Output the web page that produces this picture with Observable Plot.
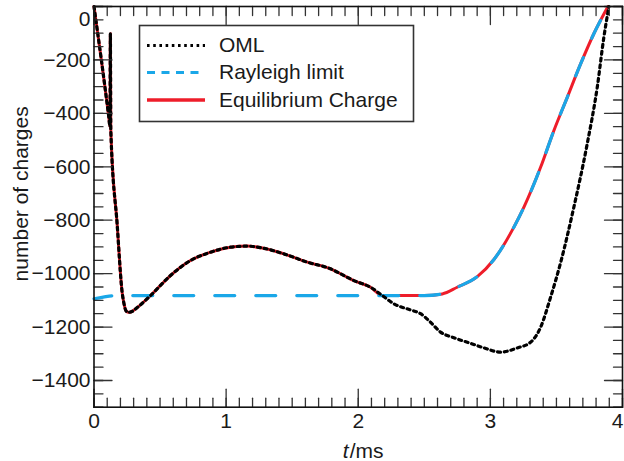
<!DOCTYPE html>
<html>
<head>
<meta charset="utf-8">
<script src="https://cdn.jsdelivr.net/npm/d3@7"></script>
<script src="https://cdn.jsdelivr.net/npm/@observablehq/plot@0.6"></script>
<style>
  html, body { margin: 0; padding: 0; background: white; overflow: hidden; }
  #wrap { position: relative; width: 624px; height: 461px; }
  #legend { position: absolute; left: 0; top: 0; }
</style>
</head>
<body>
<div id="wrap"></div>
<script>
// ---- data ----
const omlT = [0, 0.112, 0.121, 0.124, 0.127, 0.176, 0.213, 0.226, 0.240, 0.257, 0.290, 0.327, 0.428, 0.579, 0.730, 0.881, 1.033, 1.160, 1.285, 1.437, 1.614, 1.790, 1.891, 1.967, 2.093, 2.182, 2.270, 2.396, 2.472, 2.547, 2.623, 2.724, 2.850, 2.951, 3.077, 3.204, 3.304, 3.380, 3.456, 3.532, 3.632, 3.733, 3.809, 3.859, 3.897];
const omlV = [0, -414, -450, -102, -460, -820, -1070, -1110, -1137, -1145, -1141, -1127, -1082, -1007, -951, -920, -901, -897, -905, -926, -957, -982, -1007, -1026, -1051, -1082, -1113, -1136, -1150, -1182, -1219, -1240, -1261, -1278, -1294, -1278, -1257, -1201, -1088, -958, -751, -514, -302, -115, 0];

const rayT = [0, 0.07, 0.14, 0.30, 2.50, 2.636, 2.749, 2.901, 3.027, 3.178, 3.254, 3.380, 3.481, 3.582, 3.683, 3.783, 3.890];
const rayV = [-1094, -1088, -1083, -1082, -1082, -1076, -1051, -1011, -947, -826, -751, -602, -464, -340, -215, -102, 0];

const eqT = [0, 0.112, 0.121, 0.124, 0.127, 0.176, 0.213, 0.226, 0.240, 0.257, 0.290, 0.327, 0.428, 0.579, 0.730, 0.881, 1.033, 1.160, 1.285, 1.437, 1.614, 1.790, 1.891, 1.967, 2.093, 2.182, 2.50, 2.636, 2.749, 2.901, 3.027, 3.178, 3.254, 3.380, 3.481, 3.582, 3.683, 3.783, 3.890];
const eqV = [0, -414, -450, -102, -460, -820, -1070, -1110, -1137, -1145, -1141, -1127, -1082, -1007, -951, -920, -901, -897, -905, -926, -957, -982, -1007, -1026, -1051, -1082, -1082, -1076, -1051, -1011, -947, -826, -751, -602, -464, -340, -215, -102, 0];

const seriesNames = ["OML", "Rayleigh limit", "Equilibrium Charge"];
const xTickLabels = [0, 1, 2, 3];
const xLastLabel = [4];
const yTickLabels = [-1400, -1200, -1000, -800, -600, -400, -200];
const yTopLabel = [0];
const yMajorTicks = [-1400, -1200, -1000, -800, -600, -400, -200, 0];
const yMinorTicks = d3.range(-1500, 1, 50);
const xMajorTicks = [0, 1, 2, 3, 4];
const xMinorTicks = d3.range(0, 41).map(i => i / 10);

const xLabel = ["t", "/ms"];
const yLabel = "number of charges";

// ---- styles ----
const FONT = "'Liberation Sans', Arial, Helvetica, sans-serif";
const BLUE = "#1AA7E8";
const RED = "#EE1D2A";
const TICK = "#333";

const oml = omlT.map((t, i) => ({t, v: omlV[i]}));
const ray = rayT.map((t, i) => ({t, v: rayV[i]}));
const eq = eqT.map((t, i) => ({t, v: eqV[i]}));

const tickShape = {draw(context, l) { context.moveTo(0, 0); context.lineTo(0, -l); }};
function tickMarks(values, channel, frameAnchor, rotate, length) {
  const opts = {frameAnchor, rotate, length, anchor: "start", shape: tickShape, stroke: TICK, strokeWidth: 1.3};
  opts[channel] = d => d;
  return Plot.vector(values, opts);
}

const chart = Plot.plot({
  width: 624,
  height: 461,
  marginLeft: 93.5,
  marginRight: 2,
  marginTop: 6,
  marginBottom: 54.3,
  x: {domain: [0, 4]},
  y: {domain: [-1500, 0]},
  style: {fontFamily: FONT, fontSize: "21px", color: "#1a1a1a", background: "white", overflow: "visible"},
  marks: [
    // curves
    Plot.line(eq, {x: "t", y: "v", stroke: RED, strokeWidth: 3, curve: "monotone-x"}),
    Plot.line(ray, {x: "t", y: "v", stroke: BLUE, strokeWidth: 3.2, strokeDasharray: "20,21", strokeDashoffset: 2, curve: "monotone-x"}),
    Plot.line(oml, {x: "t", y: "v", stroke: "#000", strokeWidth: 3.2, strokeDasharray: "3,3.8", curve: "monotone-x"}),
    // ticks (inward)
    tickMarks(yMinorTicks, "y", "left", 90, 9),
    tickMarks(yMajorTicks, "y", "left", 90, 18),
    tickMarks(yMinorTicks, "y", "right", -90, 9),
    tickMarks(yMajorTicks, "y", "right", -90, 18),
    tickMarks(xMinorTicks, "x", "bottom", 0, 9),
    tickMarks(xMajorTicks, "x", "bottom", 0, 18),
    tickMarks(xMinorTicks, "x", "top", 180, 9),
    tickMarks(xMajorTicks, "x", "top", 180, 18),
    Plot.frame({stroke: "#111", strokeWidth: 1.6}),
    // tick labels
    Plot.axisX({ticks: xTickLabels, tickSize: 0, tickPadding: 6, tickFormat: d3.format("d"), label: null}),
    Plot.axisX({ticks: xLastLabel, tickSize: 0, tickPadding: 6, tickFormat: d3.format("d"), dx: -5, label: null}),
    Plot.axisY({ticks: yTickLabels, tickSize: 0, tickPadding: 3.5, tickFormat: d3.format("d"), label: null}),
    Plot.axisY({ticks: yTopLabel, tickSize: 0, tickPadding: 3.5, tickFormat: d3.format("d"), dy: 13, label: null}),
    // axis titles
    Plot.text([yLabel], {frameAnchor: "left", rotate: -90, dx: -66.5, dy: -13, lineAnchor: "bottom", textAnchor: "middle", fontSize: 21, fill: "#1a1a1a"}),
    Plot.text([xLabel[0]], {frameAnchor: "bottom", dx: -15.5, dy: 50.5, lineAnchor: "bottom", textAnchor: "start", fontStyle: "italic", fontSize: 21, fill: "#1a1a1a"}),
    Plot.text([xLabel[1]], {frameAnchor: "bottom", dx: -8.5, dy: 50.5, lineAnchor: "bottom", textAnchor: "start", fontSize: 21, fill: "#1a1a1a"})
  ]
});

const wrap = document.getElementById("wrap");
wrap.appendChild(chart);

// ---- legend (overlay inside the plot area) ----
const legendStyles = [
  {stroke: "#000", width: 3, dash: "2.6,3.6"},
  {stroke: BLUE, width: 3, dash: "8,6.5"},
  {stroke: RED, width: 3.5, dash: null}
];
const lg = d3.create("svg")
  .attr("id", "legend")
  .attr("width", 624)
  .attr("height", 461)
  .style("pointer-events", "none");
lg.append("rect")
  .attr("x", 139.5).attr("y", 25.5).attr("width", 274).attr("height", 96)
  .attr("fill", "white").attr("stroke", "#333").attr("stroke-width", 1.6);
const rowsY = [45.5, 72.5, 100];
seriesNames.forEach((name, i) => {
  const s = legendStyles[i];
  const ln = lg.append("line")
    .attr("x1", 147).attr("x2", 205).attr("y1", rowsY[i]).attr("y2", rowsY[i])
    .attr("stroke", s.stroke).attr("stroke-width", s.width);
  if (s.dash) ln.attr("stroke-dasharray", s.dash);
  lg.append("text")
    .attr("x", 219).attr("y", rowsY[i] + 6.5)
    .attr("font-family", FONT).attr("font-size", 21).attr("fill", "#1a1a1a")
    .text(name);
});
wrap.appendChild(lg.node());
</script>
</body>
</html>
